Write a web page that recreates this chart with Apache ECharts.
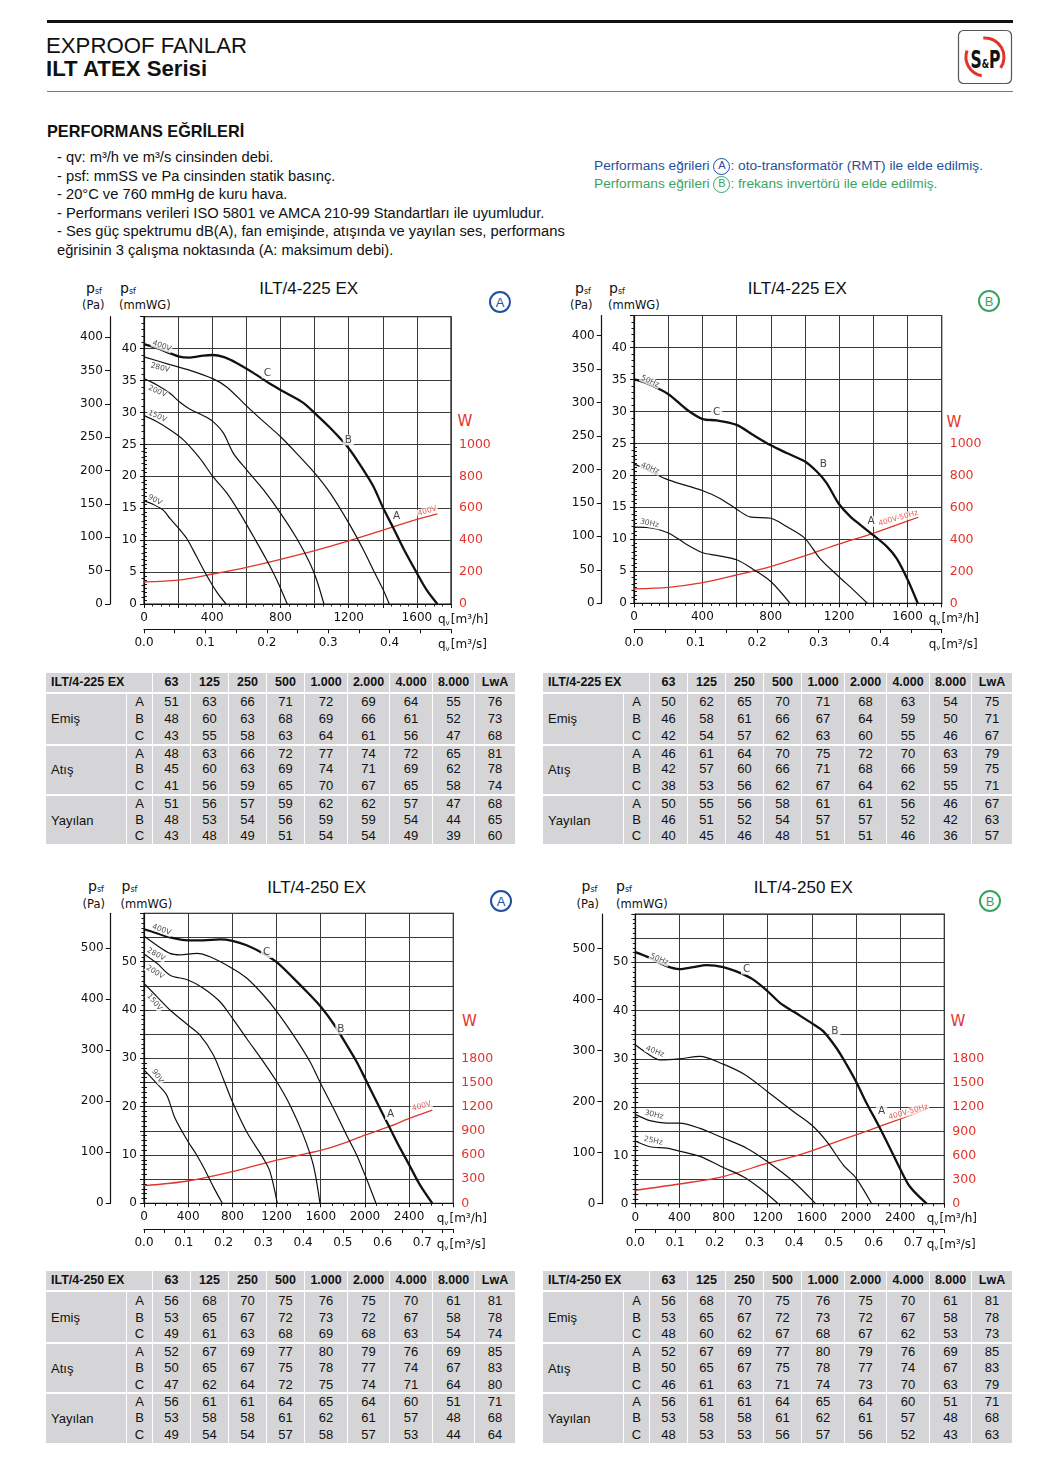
<!DOCTYPE html>
<html><head><meta charset="utf-8">
<script src="https://cdn.jsdelivr.net/npm/echarts@6/dist/echarts.min.js"></script>
<style>
body{margin:0;background:#fff;width:1044px;height:1458px;position:relative;overflow:hidden;font-family:"Liberation Sans",Arial,Helvetica,sans-serif;color:#111}
.abs{position:absolute;white-space:nowrap}
#chart{position:absolute;left:0;top:0;width:1044px;height:1458px;z-index:2}
.ctr{transform:translate(-50%,-50%)}
.din{font-family:"DejaVu Sans",sans-serif;color:#111}
.psf{font-size:14px;line-height:1}
.psf sub{font-size:8px;vertical-align:0;position:relative;top:1px}
.unit{font-size:11.5px;line-height:1}
.circ{width:22px;height:22px;border-radius:50%;border:2px solid;box-sizing:border-box;text-align:center;font-size:13px;line-height:19px;font-family:"Liberation Sans",Arial,sans-serif}
.ttl{font-size:17px}
.wlab{font-size:15px;color:#e2332d;font-family:"DejaVu Sans",sans-serif}
table.snd{position:absolute;border-collapse:separate;border-spacing:0;table-layout:fixed;font-size:13px;background:#d5d5d7;z-index:1}
table.snd td{padding:0;text-align:center;border-right:1.5px solid #fff;height:16.7px;line-height:15px;box-sizing:border-box}
table.snd td:last-child{border-right:none}
table.snd tr.hd td{font-weight:bold;height:21px;border-bottom:2px solid #fff;font-size:12.5px}
table.snd tr.gs td{border-top:2px solid #fff}
table.snd td.gl{text-align:left;padding-left:5px}
table.snd tr.hd td.tl{text-align:left;padding-left:5px}
.inl{display:inline-block;width:17px;height:17px;border-radius:50%;border:1.6px solid;box-sizing:border-box;font-size:11px;line-height:13px;text-align:center;vertical-align:baseline;position:relative;top:-1px}
.rt{line-height:18px;font-size:13.7px}
.rt div{height:18px}
</style>
</head>
<body>
<!-- header -->
<div class="abs" style="left:47px;top:20px;width:966px;height:3px;background:#111"></div>
<div class="abs" style="left:46px;top:35.4px;font-size:22.2px;line-height:1">EXPROOF FANLAR</div>
<div class="abs" style="left:46px;top:57.8px;font-size:22.2px;line-height:1;font-weight:bold">ILT ATEX Serisi</div>
<div class="abs" style="left:47px;top:91px;width:966px;height:1.2px;background:#777"></div>
<svg class="abs" style="left:957px;top:29px" width="57" height="57" viewBox="0 0 57 57">
  <rect x="1.5" y="1.5" width="53" height="53" rx="5" fill="#fff" stroke="#555" stroke-width="1.2"/>
  <path d="M 26.3 9.1 A 19 19 0 0 1 43.6 38.9" stroke="#e2332d" stroke-width="3" fill="none"/>
  <path d="M 24.7 46.7 A 19 19 0 0 1 10.1 21.5" stroke="#e2332d" stroke-width="3" fill="none"/>
  <text x="13.5" y="39" textLength="30" lengthAdjust="spacingAndGlyphs" font-family="DejaVu Sans Condensed, Liberation Sans Narrow, sans-serif" font-weight="bold" font-size="24" fill="#111">S<tspan font-size="13">&amp;</tspan>P</text>
</svg>
<div class="abs" style="left:47px;top:122.9px;font-size:16.3px;line-height:1;font-weight:bold">PERFORMANS EĞRİLERİ</div>
<div class="abs" style="left:57px;top:148.3px;font-size:14.7px;line-height:18.5px">
- qv: m³/h ve m³/s cinsinden debi.<br>
- psf: mmSS ve Pa cinsinden statik basınç.<br>
- 20°C ve 760 mmHg de kuru hava.<br>
- Performans verileri ISO 5801 ve AMCA 210-99 Standartları ile uyumludur.<br>
- Ses güç spektrumu dB(A), fan emişinde, atışında ve yayılan ses, performans<br>
eğrisinin 3 çalışma noktasında (A: maksimum debi).
</div>
<div class="abs rt" style="left:594px;top:157px">
<div style="color:#1f4f9f">Performans eğrileri <span class="inl">A</span>: oto-transformatör (RMT) ile elde edilmiş.</div>
<div style="color:#3aa45f">Performans eğrileri <span class="inl">B</span>: frekans invertörü ile elde edilmiş.</div>
</div>

<!-- chart decorations -->
<div id="deco"></div>

<div id="chart"></div>

<script>
// ---------------- DATA ----------------
// Chart 1: ILT/4-225 EX (A, auto-transformer) — q [m3/h], psf [mmWG]
const c1_400V = [[0,40.7],[74,40.1],[201,38.8],[270,38.6],[348,38.9],[403,39.0],[465,38.7],[543,37.75],[641,36.2],[739,34.5],[836,33.0],[934,31.5],[1001,29.9],[1091,27.6],[1200,24.4],[1286,21.0],[1345,18.4],[1403,15.0],[1462,11.9],[1521,8.7],[1601,4.8],[1657,2.2],[1720,0]];
const c1_280V = [[0,38.7],[152,37.5],[270,36.6],[403,35.3],[485,34.0],[602,31.0],[700,28.6],[801,26.2],[895,23.6],[1001,20.5],[1091,17.4],[1200,12.7],[1286,8.5],[1345,5.3],[1403,2.2],[1438,0]];
const c1_200V = [[0,35.3],[74,34.35],[152,33.0],[211,31.6],[270,30.5],[348,29.5],[403,28.6],[465,26.8],[524,23.6],[602,21.0],[700,17.9],[801,14.2],[895,10.3],[973,6.4],[1012,3.8],[1055,0]];
const c1_150V = [[0,29.5],[74,28.6],[152,27.3],[231,25.7],[328,22.8],[403,20.0],[485,17.4],[563,14.2],[641,10.6],[719,6.9],[778,3.8],[840,0]];
const c1_90V  = [[0,16.2],[55,15.6],[113,14.7],[152,13.4],[211,11.6],[250,10.3],[309,7.4],[367,4.5],[426,1.9],[481,0]];
const c1_W    = [[0,138],[201,150],[403,188],[602,230],[801,280],[1001,334],[1200,395],[1401,463],[1601,530],[1720,564]];
const c1_names = [[104,40.4,'400V'],[94,37.0,'280V'],[78,33.3,'200V'],[78,29.4,'150V'],[64,16.3,'90V']];
const c1_ops = [[723,36.2,'C'],[1198,25.7,'B'],[1481,13.8,'A']];
const c1_pname = [[1661,582,'400V']];

// Chart 2: ILT/4-225 EX (B, frequency inverter)
const c2_50Hz = [[0,35.0],[74,34.4],[201,32.7],[308,30.3],[402,28.8],[484,28.6],[601,27.9],[698,26.3],[800,24.7],[893,23.5],[998,22.2],[1069,20.6],[1127,18.8],[1197,15.6],[1264,13.6],[1322,12.3],[1398,10.7],[1478,8.9],[1537,7.0],[1601,3.7],[1660,0]];
const c2_40Hz = [[0,21.8],[74,20.9],[201,19.3],[402,17.6],[503,16.4],[601,14.7],[679,13.5],[800,13.3],[893,12.0],[998,10.2],[1088,7.0],[1197,4.2],[1283,2.1],[1365,0]];
const c2_30Hz = [[0,11.9],[74,11.85],[201,11.0],[308,9.2],[402,7.9],[484,7.5],[601,6.8],[698,5.3],[800,3.4],[913,0]];
const c2_W    = [[0,90],[201,100],[402,129],[601,177],[800,230],[998,296],[1197,370],[1398,438],[1663,539]];
const c2_names = [[94,34.7,'50Hz'],[94,21.1,'40Hz'],[90,12.5,'30Hz']];
const c2_ops = [[484,29.9,'C'],[1108,21.7,'B'],[1387,12.8,'A']];
const c2_pname = [[1546,532,'400V-50Hz']];

// Chart 3: ILT/4-250 EX (A)
const c3_400V = [[0,56.7],[115,55.9],[235,55.0],[398,54.4],[537,54.4],[688,54.6],[800,54.3],[929,53.4],[1080,51.7],[1201,49.9],[1352,46.6],[1503,43.1],[1599,40.7],[1714,37.2],[1834,32.8],[1925,29.3],[2000,25.9],[2106,21.0],[2212,16.2],[2302,12.1],[2402,7.9],[2498,3.8],[2610,0]];
const c3_280V = [[0,55.3],[115,53.4],[235,51.7],[326,51.4],[477,51.7],[597,51.0],[800,48.6],[929,46.6],[1080,43.1],[1201,39.7],[1352,34.8],[1503,29.3],[1599,24.8],[1714,19.7],[1834,14.1],[1925,10.0],[2000,5.9],[2100,0]];
const c3_200V = [[0,51.6],[115,49.7],[235,47.2],[398,46.2],[537,44.5],[688,41.7],[800,38.3],[929,34.1],[1080,29.3],[1201,25.2],[1322,20.3],[1442,14.1],[1533,7.9],[1593,0]];
const c3_150V = [[0,45.5],[115,42.8],[235,40.0],[398,36.9],[507,34.8],[628,30.7],[720,25.6],[800,21.0],[929,14.8],[1080,9.3],[1140,6.6],[1207,0]];
const c3_90V  = [[0,27.6],[115,24.8],[205,22.4],[281,17.6],[398,12.8],[477,10.0],[552,6.9],[628,3.4],[709,0]];
const c3_W    = [[0,219],[398,277],[800,392],[1201,537],[1599,656],[1804,743],[2000,846],[2212,949],[2402,1053],[2610,1156]];
const c3_names = [[160,56.6,'400V'],[109,51.5,'280V'],[100,47.8,'200V'],[94,41.6,'150V'],[121,26.3,'90V']];
const c3_ops = [[1110,51.9,'C'],[1783,36.1,'B'],[2233,18.4,'A']];
const c3_pname = [[2513,1205,'400V']];

// Chart 4: ILT/4-250 EX (B)
const c4_50Hz = [[0,52.1],[133,50.9],[284,49.2],[399,48.6],[526,49.0],[646,49.4],[797,49.0],[948,47.8],[1069,46.4],[1199,44.0],[1311,41.6],[1432,39.8],[1598,37.4],[1704,35.7],[1824,32.2],[1915,28.8],[2000,25.3],[2096,20.8],[2202,16.3],[2308,11.5],[2398,7.3],[2489,3.5],[2640,0]];
const c4_40Hz = [[0,32.9],[103,31.2],[224,29.8],[399,30.0],[586,30.5],[797,28.9],[994,26.7],[1199,23.2],[1432,19.1],[1598,16.3],[1734,12.9],[1885,8.0],[2000,5.3],[2142,0]];
const c4_30Hz = [[0,18.5],[133,17.2],[284,16.7],[399,16.7],[586,15.6],[797,13.6],[1009,11.5],[1199,8.7],[1432,4.6],[1634,0]];
const c4_25Hz = [[0,13.0],[133,11.8],[284,11.5],[399,10.9],[586,9.8],[797,7.5],[979,5.6],[1130,3.2],[1296,0]];
const c4_W    = [[0,166],[399,245],[797,337],[1199,503],[1432,586],[1598,657],[1764,740],[2000,856],[2232,969],[2640,1176]];
const c4_names = [[217,50.6,'50Hz'],[178,31.5,'40Hz'],[169,18.4,'30Hz'],[163,13.0,'25Hz']];
const c4_ops = [[1009,48.6,'C'],[1809,35.8,'B'],[2232,19.1,'A']];
const c4_pname = [[2474,1139,'400V-50Hz']];

// Sound power tables
const bands = ['63','125','250','500','1.000','2.000','4.000','8.000','LwA'];
const groups = ['Emiş','Atış','Yayılan'];
const opPoints = ['A','B','C'];
const t1 = [[51,63,66,71,72,69,64,55,76],[48,60,63,68,69,66,61,52,73],[43,55,58,63,64,61,56,47,68],
            [48,63,66,72,77,74,72,65,81],[45,60,63,69,74,71,69,62,78],[41,56,59,65,70,67,65,58,74],
            [51,56,57,59,62,62,57,47,68],[48,53,54,56,59,59,54,44,65],[43,48,49,51,54,54,49,39,60]];
const t2 = [[50,62,65,70,71,68,63,54,75],[46,58,61,66,67,64,59,50,71],[42,54,57,62,63,60,55,46,67],
            [46,61,64,70,75,72,70,63,79],[42,57,60,66,71,68,66,59,75],[38,53,56,62,67,64,62,55,71],
            [50,55,56,58,61,61,56,46,67],[46,51,52,54,57,57,52,42,63],[40,45,46,48,51,51,46,36,57]];
const t3 = [[56,68,70,75,76,75,70,61,81],[53,65,67,72,73,72,67,58,78],[49,61,63,68,69,68,63,54,74],
            [52,67,69,77,80,79,76,69,85],[50,65,67,75,78,77,74,67,83],[47,62,64,72,75,74,71,64,80],
            [56,61,61,64,65,64,60,51,71],[53,58,58,61,62,61,57,48,68],[49,54,54,57,58,57,53,44,64]];
const t4 = [[56,68,70,75,76,75,70,61,81],[53,65,67,72,73,72,67,58,78],[48,60,62,67,68,67,62,53,73],
            [52,67,69,77,80,79,76,69,85],[50,65,67,75,78,77,74,67,83],[46,61,63,71,74,73,70,63,79],
            [56,61,61,64,65,64,60,51,71],[53,58,58,61,62,61,57,48,68],[48,53,53,56,57,56,52,43,63]];

// ---------------- LAYOUT / STYLE ----------------
const RED = '#e2332d', INK = '#111', GRIDC = '#3a3a3a';
const FONT = 'DejaVu Sans';
const charts = [
  {title:'ILT/4-225 EX', badge:'A', grid:[144,316.7,307,287.3], qMax:1800, qStep:200, qLab:400, mmMax:45, mmLab:5, paMax:431, paStep:50, paOff:34, wMax:1800, wStep:200, wLabMax:1000, wTick:25, gap:-13, sOff:25.3,
   curves:[c1_400V,c1_280V,c1_200V,c1_150V,c1_90V], power:c1_W, names:c1_names, nameRot:[-20,-14,-24,-24,-28], ops:c1_ops, pname:c1_pname,
   deco:{title:[308.7,289.3], badge:[500,301.7], p1:[86,281], p2:[120,281], u1:[82,299.5], u2:[119,299.5], w:[465,421]}},
  {title:'ILT/4-225 EX', badge:'B', grid:[634,315.5,307.7,287.8], qMax:1800, qStep:200, qLab:400, mmMax:45, mmLab:5, paMax:430, paStep:50, paOff:32.3, wMax:1800, wStep:200, wLabMax:1000, wTick:25, gap:-13, sOff:25.7,
   curves:[c2_50Hz,c2_40Hz,c2_30Hz], power:c2_W, names:c2_names, nameRot:[-24,-22,-12], ops:c2_ops, pname:c2_pname,
   deco:{title:[797.3,289.3], badge:[989,301], p1:[575,281], p2:[609,281], u1:[570,299.5], u2:[608,299.5], w:[954,422]}},
  {title:'ILT/4-250 EX', badge:'A', grid:[144,913.3,309.3,290], qMax:2800, qStep:400, qLab:400, mmMax:60, mmLab:10, paMax:568, paStep:100, paOff:33.3, wMax:3600, wStep:300, wLabMax:1800, wTick:60, gap:-16.6, sOff:25.7,
   curves:[c3_400V,c3_280V,c3_200V,c3_150V,c3_90V], power:c3_W, names:c3_names, nameRot:[-20,-28,-32,-50,-58], ops:c3_ops, pname:c3_pname,
   deco:{title:[316.7,888.3], badge:[501,900.7], p1:[88,879], p2:[121.5,879], u1:[82.5,898.5], u2:[120.5,898.5], w:[469.5,1021]}},
  {title:'ILT/4-250 EX', badge:'B', grid:[635.3,914,309,289.7], qMax:2800, qStep:400, qLab:400, mmMax:60, mmLab:10, paMax:568, paStep:100, paOff:33, wMax:3600, wStep:300, wLabMax:1800, wTick:60, gap:-17.6, sOff:25.3,
   curves:[c4_50Hz,c4_40Hz,c4_30Hz,c4_25Hz], power:c4_W, names:c4_names, nameRot:[-22,-22,-14,-12], ops:c4_ops, pname:c4_pname,
   deco:{title:[803.3,888.3], badge:[990,900.7], p1:[581.5,879], p2:[616,879], u1:[576.5,898.5], u2:[616,898.5], w:[958,1021]}}
];

// ---------------- DECORATION TEXT ----------------
const deco = document.getElementById('deco');
function addDiv(html, cls, x, y, extra){ const d=document.createElement('div'); d.className='abs '+cls; d.style.left=x+'px'; d.style.top=y+'px'; if(extra) d.style.cssText+=extra; d.innerHTML=html; deco.appendChild(d); return d; }
charts.forEach(c=>{
  const D=c.deco;
  addDiv(c.title,'ttl ctr',D.title[0],D.title[1]);
  addDiv(c.badge,'circ ctr',D.badge[0],D.badge[1], c.badge==='A'?'color:#1f4f9f;border-color:#1f4f9f':'color:#3aa45f;border-color:#3aa45f');
  addDiv('p<sub>sf</sub>','din psf',D.p1[0],D.p1[1]);
  addDiv('p<sub>sf</sub>','din psf',D.p2[0],D.p2[1]);
  addDiv('(Pa)','din unit',D.u1[0],D.u1[1]);
  addDiv('(mmWG)','din unit',D.u2[0],D.u2[1]);
  addDiv('W','wlab ctr',D.w[0],D.w[1]);
});

// ---------------- TABLES ----------------
const colW = [81,26,38,38,38,38,43,42,43,42,40];
function makeTable(title, rows, left, top){
  const t=document.createElement('table'); t.className='snd'; t.style.left=left+'px'; t.style.top=top+'px';
  const cg=document.createElement('colgroup'); colW.forEach(w=>{const c=document.createElement('col'); c.style.width=w+'px'; cg.appendChild(c);}); t.appendChild(cg);
  t.style.width=colW.reduce((a,b)=>a+b,0)+'px';
  let h='<tr class="hd"><td class="tl" colspan="2">'+title+'</td>'+bands.map(b=>'<td>'+b+'</td>').join('')+'</tr>';
  rows.forEach((r,i)=>{
    const g=Math.floor(i/3), k=i%3;
    h+='<tr'+(k===0&&g>0?' class="gs"':'')+'>';
    if(k===0) h+='<td class="gl" rowspan="3">'+groups[g]+'</td>';
    h+='<td>'+opPoints[k]+'</td>'+r.map(v=>'<td>'+v+'</td>').join('')+'</tr>';
  });
  t.insertAdjacentHTML('beforeend',h);
  document.body.appendChild(t);
}
makeTable('ILT/4-225 EX', t1, 46, 672.5);
makeTable('ILT/4-225 EX', t2, 543, 672.5);
makeTable('ILT/4-250 EX', t3, 46, 1271);
makeTable('ILT/4-250 EX', t4, 543, 1271);

// ---------------- CHARTS ----------------
const nameRich = {
  q:{fontFamily:FONT,fontSize:12,color:INK,lineHeight:15},
  v:{fontFamily:FONT,fontSize:7,color:INK,verticalAlign:'bottom',lineHeight:15,padding:[6,1,0,0]},
  u:{fontFamily:FONT,fontSize:12,color:INK,lineHeight:15}
};
const option = {animation:false, grid:[], xAxis:[], yAxis:[], series:[]};
charts.forEach((c,i)=>{
  option.grid.push({left:c.grid[0], top:c.grid[1], width:c.grid[2], height:c.grid[3], show:true, borderColor:INK, borderWidth:1.2, containLabel:false, outerBoundsMode:'none'});
  const lab = {fontFamily:FONT, fontSize:12, color:INK};
  // main q axis (m3/h)
  option.xAxis.push({gridIndex:i, type:'value', position:'bottom', min:0, max:c.qMax, interval:c.qStep,
    axisLine:{show:true,onZero:false,lineStyle:{color:INK,width:1.2}},
    axisTick:{show:true,length:4,lineStyle:{color:INK}},
    minorTick:{show:true,splitNumber:4,length:2.5,lineStyle:{color:INK}},
    splitLine:{show:true,lineStyle:{color:GRIDC,width:1}},
    axisLabel:Object.assign({margin:8, showMaxLabel:true, formatter:v=>(v%c.qLab===0&&v<c.qMax)?String(v):''},lab),
    name:'{q|q}{v|v}{u|[m³/h]}', nameLocation:'end', nameGap:c.gap, nameMoveOverlap:false,
    nameTextStyle:{verticalAlign:'top', align:'left', padding:[8,0,0,0], rich:nameRich}});
  // secondary q axis (m3/s), ticks every 0.05 m3/s (=180 m3/h)
  option.xAxis.push({gridIndex:i, type:'value', position:'bottom', offset:c.sOff, min:0, max:c.qMax, interval:180,
    axisLine:{show:true,onZero:false,lineStyle:{color:INK,width:1.2}},
    axisTick:{show:true,length:4,lineStyle:{color:INK}},
    splitLine:{show:false},
    axisLabel:Object.assign({margin:8, showMaxLabel:true, formatter:v=>(v%360===0&&v<c.qMax)?(v/3600).toFixed(1):''},lab),
    name:'{q|q}{v|v}{u|[m³/s]}', nameLocation:'end', nameGap:c.gap, nameMoveOverlap:false,
    nameTextStyle:{verticalAlign:'top', align:'left', padding:[8,0,0,0], rich:nameRich}});
  // mmWG axis
  option.yAxis.push({gridIndex:i, type:'value', position:'left', min:0, max:c.mmMax, interval:5,
    axisLine:{show:true,onZero:false,lineStyle:{color:INK,width:1.2}},
    axisTick:{show:true,length:4,lineStyle:{color:INK}},
    minorTick:{show:true,splitNumber:5,length:2.5,lineStyle:{color:INK}},
    splitLine:{show:true,lineStyle:{color:GRIDC,width:1}},
    axisLabel:Object.assign({margin:7, showMaxLabel:true, formatter:v=>(v%c.mmLab===0&&v<c.mmMax)?String(v):''},lab)});
  // Pa axis
  const paVals=[]; for(let v=0; v<=c.paMax; v+=c.paStep) paVals.push(v);
  option.yAxis.push({gridIndex:i, type:'value', position:'left', offset:c.paOff, min:0, max:c.paMax, interval:c.paStep,
    axisLine:{show:true,onZero:false,lineStyle:{color:INK,width:1.2}},
    axisTick:{show:true,length:5,lineStyle:{color:INK},customValues:paVals},
    splitLine:{show:false},
    axisLabel:Object.assign({margin:7, customValues:paVals, formatter:v=>(v%c.paStep===0)?String(v):''},lab)});
  // W axis
  const wVals=[], wTicks=[]; for(let v=0; v<=c.wLabMax; v+=c.wStep) wVals.push(v); for(let v=0; v<=c.wLabMax; v+=c.wTick) wTicks.push(v);
  option.yAxis.push({gridIndex:i, type:'value', position:'right', min:0, max:c.wMax, interval:c.wStep,
    axisLine:{show:false},
    axisTick:{show:true,length:3,lineStyle:{color:INK},customValues:wTicks},
    splitLine:{show:false},
    axisLabel:{margin:8, customValues:wVals, fontFamily:FONT, fontSize:12.5, color:RED, formatter:v=>(v<=c.wLabMax&&v%c.wStep===0)?String(v):''}});

  const xi=2*i, yMm=3*i, yW=3*i+2;
  c.curves.forEach((d,k)=>{
    option.series.push({type:'line', xAxisIndex:xi, yAxisIndex:yMm, data:d, smooth:0.3, symbol:'none', silent:true, z:4,
      lineStyle:{color:INK, width:k===0?2.3:1.2}});
  });
  option.series.push({type:'line', xAxisIndex:xi, yAxisIndex:yW, data:c.power, smooth:0.3, symbol:'none', silent:true, z:3,
    lineStyle:{color:RED, width:1.3}});
  // curve name annotations
  option.series.push({type:'scatter', xAxisIndex:xi, yAxisIndex:yMm, symbolSize:0.1, itemStyle:{color:'transparent'}, silent:true, z:5,
    data:c.names.map((n,k)=>({value:[n[0],n[1]], label:{formatter:n[2], rotate:c.nameRot[k]}})),
    label:{show:true, position:'inside', fontFamily:FONT, fontSize:7.5, color:'#222', backgroundColor:'#fff', padding:[0,1]}});
  // operating points A/B/C
  option.series.push({type:'scatter', xAxisIndex:xi, yAxisIndex:yMm, symbolSize:0.1, itemStyle:{color:'transparent'}, silent:true, z:5,
    data:c.ops.map(n=>({value:[n[0],n[1]], label:{formatter:n[2]}})),
    label:{show:true, position:'inside', fontFamily:FONT, fontSize:10.5, color:INK, backgroundColor:'#fff', padding:[0,2]}});
  // power curve name
  option.series.push({type:'scatter', xAxisIndex:xi, yAxisIndex:yW, symbolSize:0.1, itemStyle:{color:'transparent'}, silent:true, z:5,
    data:c.pname.map(n=>({value:[n[0],n[1]], label:{formatter:n[2]}})),
    label:{show:true, position:'inside', rotate:16, fontFamily:FONT, fontSize:7.5, color:RED, backgroundColor:'#fff', padding:[0,1]}});
});
const chart = echarts.init(document.getElementById('chart'), null, {renderer:'canvas'});
chart.setOption(option);
</script>
</body></html>
